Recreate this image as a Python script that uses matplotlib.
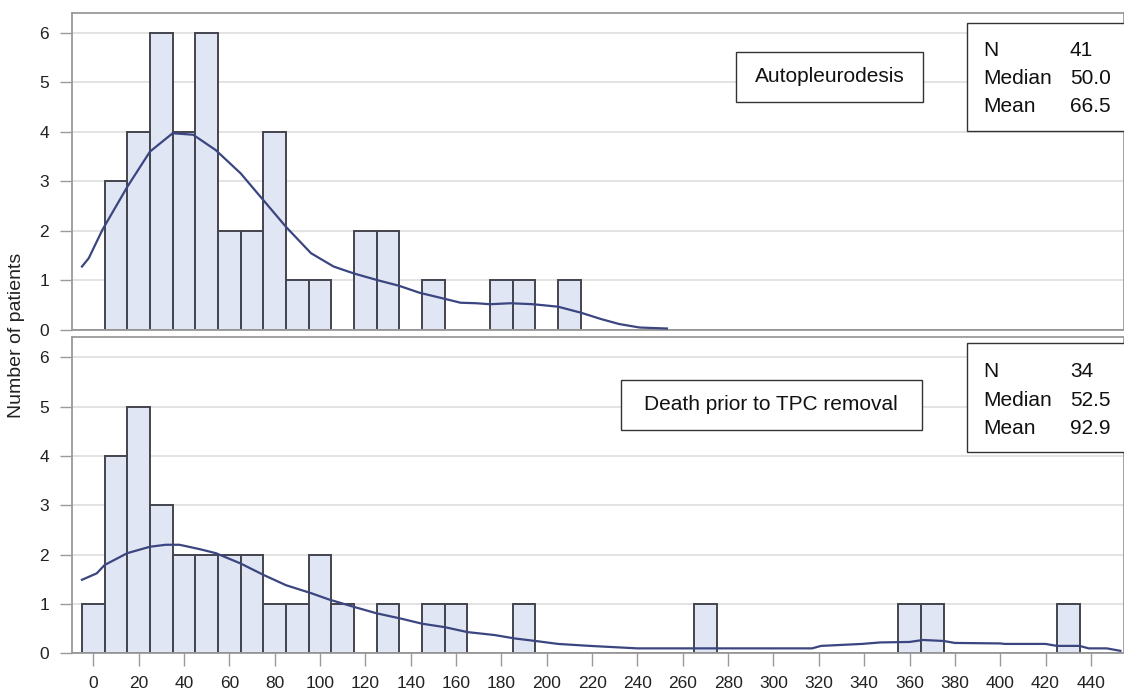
import matplotlib.pyplot as plt
from matplotlib.patches import Rectangle

plt.rcParams['font.family'] = ['Liberation Sans', 'DejaVu Sans']

# histogram bins: centres every 10 days, width 10
auto_centres = [10, 20, 30, 40, 50, 60, 70, 80, 90, 100, 120, 130, 150, 180, 190, 210]
auto_counts = [3, 4, 6, 4, 6, 2, 2, 4, 1, 1, 2, 2, 1, 1, 1, 1]

death_centres = [0, 10, 20, 30, 40, 50, 60, 70, 80, 90, 100, 110, 130, 150, 160, 190,
                 270, 360, 370, 430]
death_counts = [1, 4, 5, 3, 2, 2, 2, 2, 1, 1, 2, 1, 1, 1, 1, 1, 1, 1, 1, 1]

# density curves (scaled to counts)
auto_curve_x = [-5, -2, 4, 15, 25, 35, 44, 54, 65, 75, 85, 96, 106, 115, 125, 135,
                144, 154, 162, 169, 175, 184, 194, 205, 215, 224, 232, 241, 253]
auto_curve_y = [1.28, 1.45, 2.02, 2.89, 3.6, 3.97, 3.94, 3.63, 3.16, 2.62, 2.08, 1.55,
                1.28, 1.14, 1.01, 0.89, 0.75, 0.64, 0.55, 0.54, 0.52, 0.54, 0.52, 0.47,
                0.35, 0.22, 0.12, 0.05, 0.03]

death_curve_x = [-5, 1.5, 5, 15, 25, 32, 38, 47, 54, 65, 75, 85, 96, 104, 115, 125,
                 136, 145, 155, 165, 177, 186, 195, 205, 219, 240, 258, 278, 298, 317,
                 321, 339, 347, 360, 366, 375, 380, 400, 402, 420, 425, 435, 439, 447, 453]
death_curve_y = [1.49, 1.62, 1.79, 2.03, 2.16, 2.2, 2.2, 2.11, 2.03, 1.82, 1.59, 1.38,
                 1.22, 1.09, 0.94, 0.81, 0.70, 0.60, 0.53, 0.43, 0.37, 0.30, 0.25, 0.19,
                 0.15, 0.10, 0.10, 0.10, 0.10, 0.10, 0.15, 0.19, 0.22, 0.23, 0.27, 0.25,
                 0.21, 0.20, 0.19, 0.19, 0.15, 0.15, 0.10, 0.10, 0.05]

xticks = list(range(0, 441, 20))
yticks = [0, 1, 2, 3, 4, 5, 6]

panels = [
    ("Autopleurodesis", ["N", "Median", "Mean"], ["41", "50.0", "66.5"]),
    ("Death prior to TPC removal", ["N", "Median", "Mean"], ["34", "52.5", "92.9"]),
]

W, H = 1124, 694
fig = plt.figure(figsize=(W / 100, H / 100), dpi=100)


def fx(x):
    return x / W


def fy(y):
    return 1 - y / H


bar_face = '#e1e6f4'
bar_edge = '#44444e'
curve_col = '#3b4580'
spine_col = '#9a9a9a'
grid_col = '#e3e3e3'

ax1 = fig.add_axes([fx(72), fy(330), 1 - fx(72), fy(13.3) - fy(330)])
ax2 = fig.add_axes([fx(72), fy(653.3), 1 - fx(72), fy(337.3) - fy(653.3)])

data = [
    (ax1, auto_centres, auto_counts, auto_curve_x, auto_curve_y, 6.39),
    (ax2, death_centres, death_counts, death_curve_x, death_curve_y, 6.405),
]

for ax, cen, cnt, cx, cy, ytop in data:
    ax.bar(cen, cnt, width=10, color=bar_face, edgecolor=bar_edge, linewidth=1.4, zorder=2)
    ax.plot(cx, cy, color=curve_col, linewidth=1.6, zorder=3)
    ax.axhline(0, color='#666666', linewidth=1.3, zorder=2.5)
    ax.set_xlim(-9.4, 454.6)
    ax.set_ylim(0, ytop)
    ax.set_yticks(yticks)
    ax.yaxis.grid(True, color=grid_col, linewidth=1.4, zorder=0)
    ax.set_axisbelow(True)
    for s in ax.spines.values():
        s.set_color(spine_col)
        s.set_linewidth(1.3)
    ax.tick_params(axis='y', length=8.5, width=1.0, color=spine_col, pad=8,
                   labelsize=12.5, labelcolor='#222222')

ax1.set_xticks([])
ax2.set_xticks(xticks)
ax2.tick_params(axis='x', length=9, width=1.0, color=spine_col, pad=7,
                labelsize=12.5, labelcolor='#222222')

# y label shared by both panels
fig.text(fx(17), fy(335), "Number of patients", rotation=90, ha='center', va='center',
         fontsize=14, color='#222222')

# label boxes and stats boxes (pixel positions of the original)
label_boxes = [(736, 51.7, 923.3, 101.7), (620.7, 380, 921.7, 430)]
stat_boxes = [(966.7, 22.7, 131, [50, 79, 107]), (967, 343, 451.7, [371.7, 400, 428])]

for (title, names, vals), lb, sb in zip(panels, label_boxes, stat_boxes):
    x0, y0, x1, y1 = lb
    fig.patches.append(Rectangle((fx(x0), fy(y1)), fx(x1) - fx(x0), fy(y0) - fy(y1),
                                 transform=fig.transFigure, facecolor='white',
                                 edgecolor='#333333', linewidth=1.0, zorder=5))
    fig.text(fx((x0 + x1) / 2), fy((y0 + y1) / 2), title, ha='center', va='center',
             fontsize=15, color='#111111', zorder=6)

    sx0, sy0, sy1, rows = sb
    fig.patches.append(Rectangle((fx(sx0), fy(sy1)), 1.2 - fx(sx0), fy(sy0) - fy(sy1),
                                 transform=fig.transFigure, facecolor='white',
                                 edgecolor='#333333', linewidth=1.0, zorder=5))
    for name, val, ry in zip(names, vals, rows):
        fig.text(fx(983), fy(ry), name, ha='left', va='center', fontsize=15,
                 color='#111111', zorder=6)
        fig.text(fx(1070), fy(ry), val, ha='left', va='center', fontsize=15,
                 color='#111111', zorder=6)

fig.savefig("out.png", dpi=100)
